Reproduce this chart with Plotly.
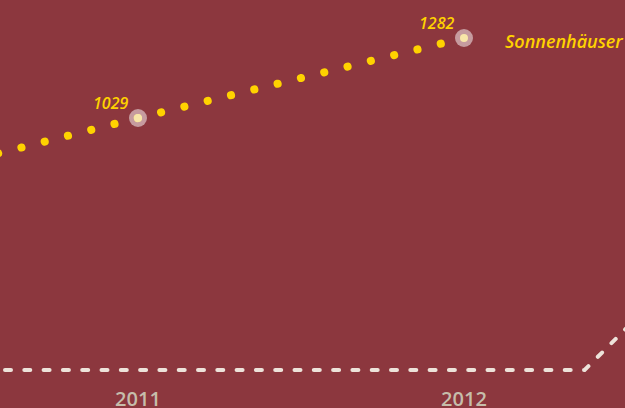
import plotly.graph_objects as go

# Data
years = [2010, 2011, 2012]
sonnenhaeuser = [768, 1029, 1282]
white_years = [2010, 2012.37, 2012.6]
white_values = [0, 0, 75]
tick_years = [2011, 2012]
tick_labels = ["2011", "2012"]
series_name = "Sonnenhäuser"

BG = "#8C373E"
YELLOW = "#FFD200"

fig = go.Figure()

fig.add_trace(go.Scatter(
    x=white_years, y=white_values, yaxis="y2", mode="lines",
    line=dict(color="#EDE3DA", width=4, dash="6px,13.3px"),
    hoverinfo="skip", showlegend=False))

fig.add_trace(go.Scatter(
    x=years, y=sonnenhaeuser, mode="lines",
    line=dict(color=YELLOW, width=8, dash="0.1px,23.9px"),
    hoverinfo="skip", showlegend=False))

fig.add_trace(go.Scatter(
    x=years, y=sonnenhaeuser, mode="markers",
    marker=dict(size=18, color="rgba(255,255,255,0.5)"),
    hoverinfo="skip", showlegend=False))

fig.add_trace(go.Scatter(
    x=years, y=sonnenhaeuser, mode="markers",
    marker=dict(size=8, color="#F8E6A8"),
    hoverinfo="skip", showlegend=False))

for yr, v in zip(years, sonnenhaeuser):
    fig.add_annotation(
        x=yr, y=v, text=str(v), showarrow=False,
        xanchor="right", yanchor="middle", xshift=-8, yshift=15,
        font=dict(family="Open Sans", size=16, color=YELLOW, style="italic", weight=600))

fig.add_annotation(
    x=years[-1], y=sonnenhaeuser[-1], text=series_name, showarrow=False,
    xanchor="left", yanchor="middle", xshift=39, yshift=-3,
    font=dict(family="Open Sans", size=18, color=YELLOW, style="italic", weight=600))

fig.update_layout(
    width=625, height=408,
    margin=dict(l=0, r=0, t=0, b=23),
    paper_bgcolor=BG, plot_bgcolor=BG,
    xaxis=dict(range=[2010.5767, 2012.4939], showgrid=False, zeroline=False,
               showline=False, tickvals=tick_years, ticktext=tick_labels,
               ticks="", automargin=False,
               tickfont=dict(family="Open Sans", size=20, color="#C6BDAB", weight=600)),
    yaxis=dict(range=[184.6, 1402.2], visible=False, automargin=False),
    yaxis2=dict(range=[-15, 370], visible=False, overlaying="y", automargin=False),
)

post = """
document.body.style.margin = '0';
document.body.style.overflow = 'hidden';
document.body.style.background = '#8C373E';
var gd = document.getElementById('{plot_id}');
function fixCaps(){
  gd.querySelectorAll('.scatterlayer .js-line').forEach(function(p){
    p.style.strokeLinecap = 'round';
  });
}
fixCaps();
gd.on('plotly_afterplot', fixCaps);
"""

fig.write_html("out.html", post_script=post, config={"displayModeBar": False})
